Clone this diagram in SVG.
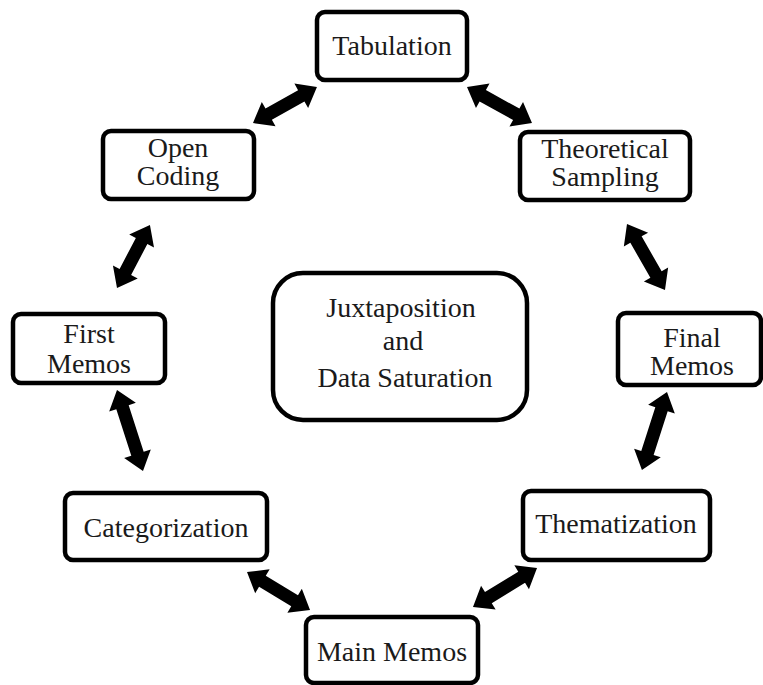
<svg xmlns="http://www.w3.org/2000/svg" width="763" height="685" viewBox="0 0 763 685">
<style>
.box{fill:#fff;stroke:#000;stroke-width:4.5}
.t{font-family:"Liberation Serif","Times New Roman",serif;font-size:28px;fill:#1a1a1a;text-anchor:middle}
.arr{fill:#000}
</style>
<rect width="763" height="685" fill="#fff"/>
<g id="connectors">
<path class="arr" transform="translate(253,123) rotate(-29.4)" d="M0,0 L18,-14 L18,-6.5 L55.4,-6.5 L55.4,-14 L73.4,0 L55.4,14 L55.4,6.5 L18,6.5 L18,14 Z"/>
<path class="arr" transform="translate(467,87) rotate(29)" d="M0,0 L18,-14 L18,-6.5 L56.3,-6.5 L56.3,-14 L74.3,0 L56.3,14 L56.3,6.5 L18,6.5 L18,14 Z"/>
<path class="arr" transform="translate(117,288) rotate(-62.4)" d="M0,0 L18,-14 L18,-6.5 L53.1,-6.5 L53.1,-14 L71.1,0 L53.1,14 L53.1,6.5 L18,6.5 L18,14 Z"/>
<path class="arr" transform="translate(627,224) rotate(60.1)" d="M0,0 L18,-14 L18,-6.5 L58.2,-6.5 L58.2,-14 L76.2,0 L58.2,14 L58.2,6.5 L18,6.5 L18,14 Z"/>
<path class="arr" transform="translate(117,390) rotate(72.2)" d="M0,0 L18,-14 L18,-6.5 L67,-6.5 L67,-14 L85,0 L67,14 L67,6.5 L18,6.5 L18,14 Z"/>
<path class="arr" transform="translate(667,392) rotate(107.8)" d="M0,0 L18,-14 L18,-6.5 L64,-6.5 L64,-14 L82,0 L64,14 L64,6.5 L18,6.5 L18,14 Z"/>
<path class="arr" transform="translate(247,572) rotate(31.1)" d="M0,0 L18,-14 L18,-6.5 L55.6,-6.5 L55.6,-14 L73.6,0 L55.6,14 L55.6,6.5 L18,6.5 L18,14 Z"/>
<path class="arr" transform="translate(473,607) rotate(-31.4)" d="M0,0 L18,-14 L18,-6.5 L57,-6.5 L57,-14 L75,0 L57,14 L57,6.5 L18,6.5 L18,14 Z"/>
</g>
<g id="tabulation"><rect class="box" x="317" y="12" width="150" height="68" rx="8"/><text class="t" x="392" y="55">Tabulation</text></g>
<g id="open-coding"><rect class="box" x="103" y="131" width="151" height="68" rx="8"/><text class="t" x="178" y="157">Open</text><text class="t" x="178" y="185">Coding</text></g>
<g id="theoretical-sampling"><rect class="box" x="520" y="132" width="170" height="68" rx="8"/><text class="t" x="605" y="158">Theoretical</text><text class="t" x="605" y="186">Sampling</text></g>
<g id="first-memos"><rect class="box" x="13" y="314" width="152" height="69" rx="8"/><text class="t" x="89" y="343">First</text><text class="t" x="89" y="373">Memos</text></g>
<g id="juxtaposition"><rect class="box" x="273" y="273" width="254" height="147" rx="30"/><text class="t" x="401" y="317">Juxtaposition</text><text class="t" x="403" y="350">and</text><text class="t" x="405" y="387">Data Saturation</text></g>
<g id="final-memos"><rect class="box" x="618" y="313" width="143" height="72" rx="8"/><text class="t" x="692" y="347">Final</text><text class="t" x="692" y="375">Memos</text></g>
<g id="categorization"><rect class="box" x="65" y="493" width="202" height="67" rx="8"/><text class="t" x="166" y="537">Categorization</text></g>
<g id="thematization"><rect class="box" x="523" y="491" width="187" height="69" rx="8"/><text class="t" x="616" y="533">Thematization</text></g>
<g id="main-memos"><rect class="box" x="306" y="617" width="172" height="66" rx="8"/><text class="t" x="392" y="661">Main Memos</text></g>
</svg>
